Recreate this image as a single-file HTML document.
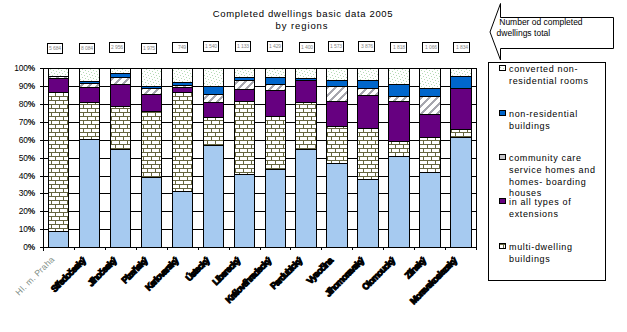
<!DOCTYPE html>
<html><head><meta charset="utf-8"><style>
html,body{margin:0;padding:0;background:#fff;width:627px;height:332px;overflow:hidden}
svg{display:block}
text{font-family:"Liberation Sans",sans-serif}
</style></head><body>
<svg width="627" height="332" viewBox="0 0 627 332" shape-rendering="crispEdges">
<defs>
<pattern id="brick" width="8" height="8" patternUnits="userSpaceOnUse">
<rect width="8" height="8" fill="#fff"/>
<rect x="0" y="0" width="8" height="1" fill="#666640"/>
<rect x="0" y="4" width="8" height="1" fill="#666640"/>
<rect x="3" y="1" width="1" height="3" fill="#666640"/>
<rect x="7" y="5" width="1" height="3" fill="#666640"/>
</pattern>
<pattern id="hatch" width="8" height="8" patternUnits="userSpaceOnUse">
<rect width="8" height="8" fill="#fff"/>

<rect x="5" y="0" width="1" height="1" fill="#A6A6AE"/><rect x="6" y="0" width="1" height="1" fill="#A6A6AE"/><rect x="7" y="0" width="1" height="1" fill="#A6A6AE"/><rect x="4" y="1" width="1" height="1" fill="#A6A6AE"/><rect x="5" y="1" width="1" height="1" fill="#A6A6AE"/><rect x="6" y="1" width="1" height="1" fill="#A6A6AE"/><rect x="3" y="2" width="1" height="1" fill="#A6A6AE"/><rect x="4" y="2" width="1" height="1" fill="#A6A6AE"/><rect x="5" y="2" width="1" height="1" fill="#A6A6AE"/><rect x="2" y="3" width="1" height="1" fill="#A6A6AE"/><rect x="3" y="3" width="1" height="1" fill="#A6A6AE"/><rect x="4" y="3" width="1" height="1" fill="#A6A6AE"/><rect x="1" y="4" width="1" height="1" fill="#A6A6AE"/><rect x="2" y="4" width="1" height="1" fill="#A6A6AE"/><rect x="3" y="4" width="1" height="1" fill="#A6A6AE"/><rect x="0" y="5" width="1" height="1" fill="#A6A6AE"/><rect x="1" y="5" width="1" height="1" fill="#A6A6AE"/><rect x="2" y="5" width="1" height="1" fill="#A6A6AE"/><rect x="0" y="6" width="1" height="1" fill="#A6A6AE"/><rect x="1" y="6" width="1" height="1" fill="#A6A6AE"/><rect x="7" y="6" width="1" height="1" fill="#A6A6AE"/><rect x="0" y="7" width="1" height="1" fill="#A6A6AE"/><rect x="6" y="7" width="1" height="1" fill="#A6A6AE"/><rect x="7" y="7" width="1" height="1" fill="#A6A6AE"/>
</pattern>
<pattern id="dots" width="8" height="8" patternUnits="userSpaceOnUse">
<rect width="8" height="8" fill="#fff"/>

<rect x="3" y="0" width="1" height="1" fill="#B4DAB4"/><rect x="6" y="1" width="1" height="1" fill="#B4DAB4"/><rect x="1" y="2" width="1" height="1" fill="#B4DAB4"/><rect x="4" y="3" width="1" height="1" fill="#B4DAB4"/><rect x="7" y="4" width="1" height="1" fill="#B4DAB4"/><rect x="2" y="5" width="1" height="1" fill="#B4DAB4"/><rect x="5" y="6" width="1" height="1" fill="#B4DAB4"/><rect x="0" y="7" width="1" height="1" fill="#B4DAB4"/>
</pattern>
<filter id="al" x="-5%" y="-20%" width="110%" height="140%"><feComponentTransfer><feFuncA type="discrete" tableValues="0 0 0 0 1 1 1 1 1 1"/></feComponentTransfer></filter>
</defs>
<rect width="627" height="332" fill="#fff"/>

<text x="303" y="16.5" font-size="9.5" text-anchor="middle" letter-spacing="0.66" fill="#000">Completed dwellings basic data 2005</text>
<text x="302" y="28.6" font-size="9.5" text-anchor="middle" letter-spacing="0.9" fill="#000">by regions</text>
<rect x="40" y="247" width="437" height="1" fill="#000"/>
<text x="35" y="249.6" font-size="8.4" text-anchor="end" fill="#000" letter-spacing="-0.15">0<tspan font-weight="bold">%</tspan></text>
<rect x="40" y="229" width="437" height="1" fill="#000"/>
<text x="35" y="231.6" font-size="8.4" text-anchor="end" fill="#000" letter-spacing="-0.15">10<tspan font-weight="bold">%</tspan></text>
<rect x="40" y="211" width="437" height="1" fill="#000"/>
<text x="35" y="213.6" font-size="8.4" text-anchor="end" fill="#000" letter-spacing="-0.15">20<tspan font-weight="bold">%</tspan></text>
<rect x="40" y="193" width="437" height="1" fill="#000"/>
<text x="35" y="195.6" font-size="8.4" text-anchor="end" fill="#000" letter-spacing="-0.15">30<tspan font-weight="bold">%</tspan></text>
<rect x="40" y="176" width="437" height="1" fill="#000"/>
<text x="35" y="178.6" font-size="8.4" text-anchor="end" fill="#000" letter-spacing="-0.15">40<tspan font-weight="bold">%</tspan></text>
<rect x="40" y="158" width="437" height="1" fill="#000"/>
<text x="35" y="160.6" font-size="8.4" text-anchor="end" fill="#000" letter-spacing="-0.15">50<tspan font-weight="bold">%</tspan></text>
<rect x="40" y="140" width="437" height="1" fill="#000"/>
<text x="35" y="142.6" font-size="8.4" text-anchor="end" fill="#000" letter-spacing="-0.15">60<tspan font-weight="bold">%</tspan></text>
<rect x="40" y="122" width="437" height="1" fill="#000"/>
<text x="35" y="124.6" font-size="8.4" text-anchor="end" fill="#000" letter-spacing="-0.15">70<tspan font-weight="bold">%</tspan></text>
<rect x="40" y="104" width="437" height="1" fill="#000"/>
<text x="35" y="106.6" font-size="8.4" text-anchor="end" fill="#000" letter-spacing="-0.15">80<tspan font-weight="bold">%</tspan></text>
<rect x="40" y="86" width="437" height="1" fill="#000"/>
<text x="35" y="88.6" font-size="8.4" text-anchor="end" fill="#000" letter-spacing="-0.15">90<tspan font-weight="bold">%</tspan></text>
<rect x="40" y="68" width="437" height="1" fill="#000"/>
<text x="35" y="70.6" font-size="8.4" text-anchor="end" fill="#000" letter-spacing="-0.15">100<tspan font-weight="bold">%</tspan></text>
<rect x="43" y="68" width="1" height="183" fill="#000"/>
<rect x="476" y="68" width="1" height="180" fill="#000"/>
<rect x="43" y="247" width="1" height="3" fill="#000"/>
<rect x="74" y="247" width="1" height="3" fill="#000"/>
<rect x="105" y="247" width="1" height="3" fill="#000"/>
<rect x="136" y="247" width="1" height="3" fill="#000"/>
<rect x="167" y="247" width="1" height="3" fill="#000"/>
<rect x="198" y="247" width="1" height="3" fill="#000"/>
<rect x="229" y="247" width="1" height="3" fill="#000"/>
<rect x="260" y="247" width="1" height="3" fill="#000"/>
<rect x="290" y="247" width="1" height="3" fill="#000"/>
<rect x="321" y="247" width="1" height="3" fill="#000"/>
<rect x="352" y="247" width="1" height="3" fill="#000"/>
<rect x="383" y="247" width="1" height="3" fill="#000"/>
<rect x="414" y="247" width="1" height="3" fill="#000"/>
<rect x="445" y="247" width="1" height="3" fill="#000"/>
<rect x="476" y="247" width="1" height="3" fill="#000"/>
<rect x="48" y="68" width="20" height="8" fill="url(#dots)"/>
<rect x="48" y="76" width="20" height="2" fill="url(#hatch)"/>
<rect x="48" y="78" width="20" height="14" fill="#660080"/>
<rect x="48" y="92" width="20" height="139" fill="url(#brick)"/>
<rect x="48" y="231" width="20" height="16" fill="#A6CAF0"/>
<rect x="48" y="68" width="21" height="1" fill="#000"/>
<rect x="48" y="76" width="21" height="1" fill="#000"/>
<rect x="48" y="78" width="21" height="1" fill="#000"/>
<rect x="48" y="92" width="21" height="1" fill="#000"/>
<rect x="48" y="231" width="21" height="1" fill="#000"/>
<rect x="48" y="247" width="21" height="1" fill="#000"/>
<rect x="48" y="68" width="1" height="180" fill="#000"/>
<rect x="68" y="68" width="1" height="180" fill="#000"/>
<rect x="79" y="68" width="20" height="13" fill="url(#dots)"/>
<rect x="79" y="81" width="20" height="2" fill="#0066CC"/>
<rect x="79" y="83" width="20" height="4" fill="url(#hatch)"/>
<rect x="79" y="87" width="20" height="15" fill="#660080"/>
<rect x="79" y="102" width="20" height="37" fill="url(#brick)"/>
<rect x="79" y="139" width="20" height="108" fill="#A6CAF0"/>
<rect x="79" y="68" width="21" height="1" fill="#000"/>
<rect x="79" y="81" width="21" height="1" fill="#000"/>
<rect x="79" y="83" width="21" height="1" fill="#000"/>
<rect x="79" y="87" width="21" height="1" fill="#000"/>
<rect x="79" y="102" width="21" height="1" fill="#000"/>
<rect x="79" y="139" width="21" height="1" fill="#000"/>
<rect x="79" y="247" width="21" height="1" fill="#000"/>
<rect x="79" y="68" width="1" height="180" fill="#000"/>
<rect x="99" y="68" width="1" height="180" fill="#000"/>
<rect x="110" y="68" width="20" height="5" fill="url(#dots)"/>
<rect x="110" y="73" width="20" height="4" fill="#0066CC"/>
<rect x="110" y="77" width="20" height="7" fill="url(#hatch)"/>
<rect x="110" y="84" width="20" height="22" fill="#660080"/>
<rect x="110" y="106" width="20" height="43" fill="url(#brick)"/>
<rect x="110" y="149" width="20" height="98" fill="#A6CAF0"/>
<rect x="110" y="68" width="21" height="1" fill="#000"/>
<rect x="110" y="73" width="21" height="1" fill="#000"/>
<rect x="110" y="77" width="21" height="1" fill="#000"/>
<rect x="110" y="84" width="21" height="1" fill="#000"/>
<rect x="110" y="106" width="21" height="1" fill="#000"/>
<rect x="110" y="149" width="21" height="1" fill="#000"/>
<rect x="110" y="247" width="21" height="1" fill="#000"/>
<rect x="110" y="68" width="1" height="180" fill="#000"/>
<rect x="130" y="68" width="1" height="180" fill="#000"/>
<rect x="141" y="68" width="20" height="18" fill="url(#dots)"/>
<rect x="141" y="86" width="20" height="2" fill="#0066CC"/>
<rect x="141" y="88" width="20" height="6" fill="url(#hatch)"/>
<rect x="141" y="94" width="20" height="17" fill="#660080"/>
<rect x="141" y="111" width="20" height="66" fill="url(#brick)"/>
<rect x="141" y="177" width="20" height="70" fill="#A6CAF0"/>
<rect x="141" y="68" width="21" height="1" fill="#000"/>
<rect x="141" y="86" width="21" height="1" fill="#000"/>
<rect x="141" y="88" width="21" height="1" fill="#000"/>
<rect x="141" y="94" width="21" height="1" fill="#000"/>
<rect x="141" y="111" width="21" height="1" fill="#000"/>
<rect x="141" y="177" width="21" height="1" fill="#000"/>
<rect x="141" y="247" width="21" height="1" fill="#000"/>
<rect x="141" y="68" width="1" height="180" fill="#000"/>
<rect x="161" y="68" width="1" height="180" fill="#000"/>
<rect x="172" y="68" width="20" height="14" fill="url(#dots)"/>
<rect x="172" y="82" width="20" height="3" fill="#0066CC"/>
<rect x="172" y="85" width="20" height="2" fill="url(#hatch)"/>
<rect x="172" y="87" width="20" height="5" fill="#660080"/>
<rect x="172" y="92" width="20" height="99" fill="url(#brick)"/>
<rect x="172" y="191" width="20" height="56" fill="#A6CAF0"/>
<rect x="172" y="68" width="21" height="1" fill="#000"/>
<rect x="172" y="82" width="21" height="1" fill="#000"/>
<rect x="172" y="85" width="21" height="1" fill="#000"/>
<rect x="172" y="87" width="21" height="1" fill="#000"/>
<rect x="172" y="92" width="21" height="1" fill="#000"/>
<rect x="172" y="191" width="21" height="1" fill="#000"/>
<rect x="172" y="247" width="21" height="1" fill="#000"/>
<rect x="172" y="68" width="1" height="180" fill="#000"/>
<rect x="192" y="68" width="1" height="180" fill="#000"/>
<rect x="203" y="68" width="20" height="18" fill="url(#dots)"/>
<rect x="203" y="86" width="20" height="8" fill="#0066CC"/>
<rect x="203" y="94" width="20" height="8" fill="url(#hatch)"/>
<rect x="203" y="102" width="20" height="15" fill="#660080"/>
<rect x="203" y="117" width="20" height="28" fill="url(#brick)"/>
<rect x="203" y="145" width="20" height="102" fill="#A6CAF0"/>
<rect x="203" y="68" width="21" height="1" fill="#000"/>
<rect x="203" y="86" width="21" height="1" fill="#000"/>
<rect x="203" y="94" width="21" height="1" fill="#000"/>
<rect x="203" y="102" width="21" height="1" fill="#000"/>
<rect x="203" y="117" width="21" height="1" fill="#000"/>
<rect x="203" y="145" width="21" height="1" fill="#000"/>
<rect x="203" y="247" width="21" height="1" fill="#000"/>
<rect x="203" y="68" width="1" height="180" fill="#000"/>
<rect x="223" y="68" width="1" height="180" fill="#000"/>
<rect x="234" y="68" width="20" height="9" fill="url(#dots)"/>
<rect x="234" y="77" width="20" height="3" fill="#0066CC"/>
<rect x="234" y="80" width="20" height="9" fill="url(#hatch)"/>
<rect x="234" y="89" width="20" height="12" fill="#660080"/>
<rect x="234" y="101" width="20" height="73" fill="url(#brick)"/>
<rect x="234" y="174" width="20" height="73" fill="#A6CAF0"/>
<rect x="234" y="68" width="21" height="1" fill="#000"/>
<rect x="234" y="77" width="21" height="1" fill="#000"/>
<rect x="234" y="80" width="21" height="1" fill="#000"/>
<rect x="234" y="89" width="21" height="1" fill="#000"/>
<rect x="234" y="101" width="21" height="1" fill="#000"/>
<rect x="234" y="174" width="21" height="1" fill="#000"/>
<rect x="234" y="247" width="21" height="1" fill="#000"/>
<rect x="234" y="68" width="1" height="180" fill="#000"/>
<rect x="254" y="68" width="1" height="180" fill="#000"/>
<rect x="265" y="68" width="20" height="9" fill="url(#dots)"/>
<rect x="265" y="77" width="20" height="7" fill="#0066CC"/>
<rect x="265" y="84" width="20" height="6" fill="url(#hatch)"/>
<rect x="265" y="90" width="20" height="26" fill="#660080"/>
<rect x="265" y="116" width="20" height="53" fill="url(#brick)"/>
<rect x="265" y="169" width="20" height="78" fill="#A6CAF0"/>
<rect x="265" y="68" width="21" height="1" fill="#000"/>
<rect x="265" y="77" width="21" height="1" fill="#000"/>
<rect x="265" y="84" width="21" height="1" fill="#000"/>
<rect x="265" y="90" width="21" height="1" fill="#000"/>
<rect x="265" y="116" width="21" height="1" fill="#000"/>
<rect x="265" y="169" width="21" height="1" fill="#000"/>
<rect x="265" y="247" width="21" height="1" fill="#000"/>
<rect x="265" y="68" width="1" height="180" fill="#000"/>
<rect x="285" y="68" width="1" height="180" fill="#000"/>
<rect x="295" y="68" width="21" height="10" fill="url(#dots)"/>
<rect x="295" y="78" width="21" height="2" fill="#0066CC"/>
<rect x="295" y="80" width="21" height="22" fill="#660080"/>
<rect x="295" y="102" width="21" height="47" fill="url(#brick)"/>
<rect x="295" y="149" width="21" height="98" fill="#A6CAF0"/>
<rect x="295" y="68" width="22" height="1" fill="#000"/>
<rect x="295" y="78" width="22" height="1" fill="#000"/>
<rect x="295" y="80" width="22" height="1" fill="#000"/>
<rect x="295" y="102" width="22" height="1" fill="#000"/>
<rect x="295" y="149" width="22" height="1" fill="#000"/>
<rect x="295" y="247" width="22" height="1" fill="#000"/>
<rect x="295" y="68" width="1" height="180" fill="#000"/>
<rect x="316" y="68" width="1" height="180" fill="#000"/>
<rect x="326" y="68" width="21" height="12" fill="url(#dots)"/>
<rect x="326" y="80" width="21" height="6" fill="#0066CC"/>
<rect x="326" y="86" width="21" height="15" fill="url(#hatch)"/>
<rect x="326" y="101" width="21" height="25" fill="#660080"/>
<rect x="326" y="126" width="21" height="37" fill="url(#brick)"/>
<rect x="326" y="163" width="21" height="84" fill="#A6CAF0"/>
<rect x="326" y="68" width="22" height="1" fill="#000"/>
<rect x="326" y="80" width="22" height="1" fill="#000"/>
<rect x="326" y="86" width="22" height="1" fill="#000"/>
<rect x="326" y="101" width="22" height="1" fill="#000"/>
<rect x="326" y="126" width="22" height="1" fill="#000"/>
<rect x="326" y="163" width="22" height="1" fill="#000"/>
<rect x="326" y="247" width="22" height="1" fill="#000"/>
<rect x="326" y="68" width="1" height="180" fill="#000"/>
<rect x="347" y="68" width="1" height="180" fill="#000"/>
<rect x="357" y="68" width="21" height="12" fill="url(#dots)"/>
<rect x="357" y="80" width="21" height="8" fill="#0066CC"/>
<rect x="357" y="88" width="21" height="7" fill="url(#hatch)"/>
<rect x="357" y="95" width="21" height="33" fill="#660080"/>
<rect x="357" y="128" width="21" height="51" fill="url(#brick)"/>
<rect x="357" y="179" width="21" height="68" fill="#A6CAF0"/>
<rect x="357" y="68" width="22" height="1" fill="#000"/>
<rect x="357" y="80" width="22" height="1" fill="#000"/>
<rect x="357" y="88" width="22" height="1" fill="#000"/>
<rect x="357" y="95" width="22" height="1" fill="#000"/>
<rect x="357" y="128" width="22" height="1" fill="#000"/>
<rect x="357" y="179" width="22" height="1" fill="#000"/>
<rect x="357" y="247" width="22" height="1" fill="#000"/>
<rect x="357" y="68" width="1" height="180" fill="#000"/>
<rect x="378" y="68" width="1" height="180" fill="#000"/>
<rect x="388" y="68" width="21" height="16" fill="url(#dots)"/>
<rect x="388" y="84" width="21" height="12" fill="#0066CC"/>
<rect x="388" y="96" width="21" height="5" fill="url(#hatch)"/>
<rect x="388" y="101" width="21" height="40" fill="#660080"/>
<rect x="388" y="141" width="21" height="15" fill="url(#brick)"/>
<rect x="388" y="156" width="21" height="91" fill="#A6CAF0"/>
<rect x="388" y="68" width="22" height="1" fill="#000"/>
<rect x="388" y="84" width="22" height="1" fill="#000"/>
<rect x="388" y="96" width="22" height="1" fill="#000"/>
<rect x="388" y="101" width="22" height="1" fill="#000"/>
<rect x="388" y="141" width="22" height="1" fill="#000"/>
<rect x="388" y="156" width="22" height="1" fill="#000"/>
<rect x="388" y="247" width="22" height="1" fill="#000"/>
<rect x="388" y="68" width="1" height="180" fill="#000"/>
<rect x="409" y="68" width="1" height="180" fill="#000"/>
<rect x="419" y="68" width="21" height="20" fill="url(#dots)"/>
<rect x="419" y="88" width="21" height="8" fill="#0066CC"/>
<rect x="419" y="96" width="21" height="18" fill="url(#hatch)"/>
<rect x="419" y="114" width="21" height="23" fill="#660080"/>
<rect x="419" y="137" width="21" height="35" fill="url(#brick)"/>
<rect x="419" y="172" width="21" height="75" fill="#A6CAF0"/>
<rect x="419" y="68" width="22" height="1" fill="#000"/>
<rect x="419" y="88" width="22" height="1" fill="#000"/>
<rect x="419" y="96" width="22" height="1" fill="#000"/>
<rect x="419" y="114" width="22" height="1" fill="#000"/>
<rect x="419" y="137" width="22" height="1" fill="#000"/>
<rect x="419" y="172" width="22" height="1" fill="#000"/>
<rect x="419" y="247" width="22" height="1" fill="#000"/>
<rect x="419" y="68" width="1" height="180" fill="#000"/>
<rect x="440" y="68" width="1" height="180" fill="#000"/>
<rect x="450" y="68" width="21" height="8" fill="url(#dots)"/>
<rect x="450" y="76" width="21" height="12" fill="#0066CC"/>
<rect x="450" y="88" width="21" height="41" fill="#660080"/>
<rect x="450" y="129" width="21" height="8" fill="url(#brick)"/>
<rect x="450" y="137" width="21" height="110" fill="#A6CAF0"/>
<rect x="450" y="68" width="22" height="1" fill="#000"/>
<rect x="450" y="76" width="22" height="1" fill="#000"/>
<rect x="450" y="88" width="22" height="1" fill="#000"/>
<rect x="450" y="129" width="22" height="1" fill="#000"/>
<rect x="450" y="137" width="22" height="1" fill="#000"/>
<rect x="450" y="247" width="22" height="1" fill="#000"/>
<rect x="450" y="68" width="1" height="180" fill="#000"/>
<rect x="471" y="68" width="1" height="180" fill="#000"/>
<rect x="47" y="43" width="16" height="10" fill="#fff"/>
<rect x="47" y="43" width="16" height="1" fill="#000"/><rect x="47" y="53" width="16" height="1" fill="#000"/><rect x="47" y="43" width="1" height="11" fill="#000"/><rect x="62" y="43" width="1" height="11" fill="#000"/>
<text x="61" y="49.5" font-size="5" text-anchor="end" fill="#888" letter-spacing="-0.1">5 684</text>
<rect x="79" y="43" width="16" height="10" fill="#fff"/>
<rect x="79" y="43" width="16" height="1" fill="#000"/><rect x="79" y="53" width="16" height="1" fill="#000"/><rect x="79" y="43" width="1" height="11" fill="#000"/><rect x="94" y="43" width="1" height="11" fill="#000"/>
<text x="93" y="49.5" font-size="5" text-anchor="end" fill="#888" letter-spacing="-0.1">8 084</text>
<rect x="109" y="42" width="16" height="10" fill="#fff"/>
<rect x="109" y="42" width="16" height="1" fill="#000"/><rect x="109" y="52" width="16" height="1" fill="#000"/><rect x="109" y="42" width="1" height="11" fill="#000"/><rect x="124" y="42" width="1" height="11" fill="#000"/>
<text x="123" y="48.5" font-size="5" text-anchor="end" fill="#888" letter-spacing="-0.1">2 956</text>
<rect x="141" y="43" width="16" height="10" fill="#fff"/>
<rect x="141" y="43" width="16" height="1" fill="#000"/><rect x="141" y="53" width="16" height="1" fill="#000"/><rect x="141" y="43" width="1" height="11" fill="#000"/><rect x="156" y="43" width="1" height="11" fill="#000"/>
<text x="155" y="49.5" font-size="5" text-anchor="end" fill="#888" letter-spacing="-0.1">1 975</text>
<rect x="172" y="42" width="16" height="10" fill="#fff"/>
<rect x="172" y="42" width="16" height="1" fill="#000"/><rect x="172" y="52" width="16" height="1" fill="#000"/><rect x="172" y="42" width="1" height="11" fill="#000"/><rect x="187" y="42" width="1" height="11" fill="#000"/>
<text x="186" y="48.5" font-size="5" text-anchor="end" fill="#888" letter-spacing="-0.1">749</text>
<rect x="203" y="41" width="16" height="10" fill="#fff"/>
<rect x="203" y="41" width="16" height="1" fill="#000"/><rect x="203" y="51" width="16" height="1" fill="#000"/><rect x="203" y="41" width="1" height="11" fill="#000"/><rect x="218" y="41" width="1" height="11" fill="#000"/>
<text x="217" y="47.5" font-size="5" text-anchor="end" fill="#888" letter-spacing="-0.1">1 540</text>
<rect x="235" y="41" width="16" height="10" fill="#fff"/>
<rect x="235" y="41" width="16" height="1" fill="#000"/><rect x="235" y="51" width="16" height="1" fill="#000"/><rect x="235" y="41" width="1" height="11" fill="#000"/><rect x="250" y="41" width="1" height="11" fill="#000"/>
<text x="249" y="47.5" font-size="5" text-anchor="end" fill="#888" letter-spacing="-0.1">1 133</text>
<rect x="267" y="41" width="16" height="10" fill="#fff"/>
<rect x="267" y="41" width="16" height="1" fill="#000"/><rect x="267" y="51" width="16" height="1" fill="#000"/><rect x="267" y="41" width="1" height="11" fill="#000"/><rect x="282" y="41" width="1" height="11" fill="#000"/>
<text x="281" y="47.5" font-size="5" text-anchor="end" fill="#888" letter-spacing="-0.1">1 429</text>
<rect x="299" y="42" width="16" height="10" fill="#fff"/>
<rect x="299" y="42" width="16" height="1" fill="#000"/><rect x="299" y="52" width="16" height="1" fill="#000"/><rect x="299" y="42" width="1" height="11" fill="#000"/><rect x="314" y="42" width="1" height="11" fill="#000"/>
<text x="313" y="48.5" font-size="5" text-anchor="end" fill="#888" letter-spacing="-0.1">1 400</text>
<rect x="328" y="41" width="16" height="10" fill="#fff"/>
<rect x="328" y="41" width="16" height="1" fill="#000"/><rect x="328" y="51" width="16" height="1" fill="#000"/><rect x="328" y="41" width="1" height="11" fill="#000"/><rect x="343" y="41" width="1" height="11" fill="#000"/>
<text x="342" y="47.5" font-size="5" text-anchor="end" fill="#888" letter-spacing="-0.1">1 573</text>
<rect x="358" y="41" width="17" height="10" fill="#fff"/>
<rect x="358" y="41" width="17" height="1" fill="#000"/><rect x="358" y="51" width="17" height="1" fill="#000"/><rect x="358" y="41" width="1" height="11" fill="#000"/><rect x="374" y="41" width="1" height="11" fill="#000"/>
<text x="373" y="47.5" font-size="5" text-anchor="end" fill="#888" letter-spacing="-0.1">3 876</text>
<rect x="390" y="42" width="17" height="10" fill="#fff"/>
<rect x="390" y="42" width="17" height="1" fill="#000"/><rect x="390" y="52" width="17" height="1" fill="#000"/><rect x="390" y="42" width="1" height="11" fill="#000"/><rect x="406" y="42" width="1" height="11" fill="#000"/>
<text x="405" y="48.5" font-size="5" text-anchor="end" fill="#888" letter-spacing="-0.1">1 818</text>
<rect x="422" y="42" width="17" height="10" fill="#fff"/>
<rect x="422" y="42" width="17" height="1" fill="#000"/><rect x="422" y="52" width="17" height="1" fill="#000"/><rect x="422" y="42" width="1" height="11" fill="#000"/><rect x="438" y="42" width="1" height="11" fill="#000"/>
<text x="437" y="48.5" font-size="5" text-anchor="end" fill="#888" letter-spacing="-0.1">1 066</text>
<rect x="453" y="42" width="17" height="10" fill="#fff"/>
<rect x="453" y="42" width="17" height="1" fill="#000"/><rect x="453" y="52" width="17" height="1" fill="#000"/><rect x="453" y="42" width="1" height="11" fill="#000"/><rect x="469" y="42" width="1" height="11" fill="#000"/>
<text x="468" y="48.5" font-size="5" text-anchor="end" fill="#888" letter-spacing="-0.1">1 834</text>
<rect x="488" y="62" width="118" height="219" fill="#fff"/>
<rect x="488" y="62" width="118" height="1" fill="#000"/><rect x="488" y="280" width="118" height="1" fill="#000"/><rect x="488" y="62" width="1" height="219" fill="#000"/><rect x="605" y="62" width="1" height="219" fill="#000"/>
<rect x="499" y="65" width="7" height="6" fill="#000"/><rect x="500" y="66" width="5" height="4" fill="url(#dots)"/>
<text x="509" y="72.0" font-size="9" letter-spacing="0.65" fill="#000">converted non-</text>
<text x="509" y="83.8" font-size="9" letter-spacing="0.65" fill="#000">residential rooms</text>
<rect x="499" y="110" width="7" height="6" fill="#000"/><rect x="500" y="111" width="5" height="4" fill="#0066CC"/>
<text x="509" y="117.0" font-size="9" letter-spacing="0.65" fill="#000">non-residential</text>
<text x="509" y="128.8" font-size="9" letter-spacing="0.65" fill="#000">buildings</text>
<rect x="499" y="154" width="7" height="6" fill="#000"/><rect x="500" y="155" width="5" height="4" fill="#C4C4C8"/>
<text x="509" y="161.0" font-size="9" letter-spacing="0.65" fill="#000">community care</text>
<text x="509" y="172.8" font-size="9" letter-spacing="0.65" fill="#000">service homes and</text>
<text x="509" y="184.6" font-size="9" letter-spacing="0.65" fill="#000">homes- boarding</text>
<text x="509" y="196.4" font-size="9" letter-spacing="0.65" fill="#000">houses</text>
<rect x="499" y="198" width="7" height="6" fill="#000"/><rect x="500" y="199" width="5" height="4" fill="#660080"/>
<text x="509" y="205.0" font-size="9" letter-spacing="0.65" fill="#000">in all types of</text>
<text x="509" y="216.8" font-size="9" letter-spacing="0.65" fill="#000">extensions</text>
<rect x="499" y="243" width="7" height="6" fill="#000"/><rect x="500" y="244" width="5" height="4" fill="url(#brick)"/>
<text x="509" y="250.0" font-size="9" letter-spacing="0.65" fill="#000">multi-dwelling</text>
<text x="509" y="261.8" font-size="9" letter-spacing="0.65" fill="#000">buildings</text>
<path d="M613.5 17.5 L500.5 17.5 L500.5 3.5 L490 32 L500.5 60 L500.5 48.5 L613.5 48.5 Z" fill="#fff" stroke="#000" stroke-width="1" shape-rendering="auto"/>
<text x="499.3" y="25.2" font-size="8.5" letter-spacing="-0.02" fill="#000">Number od completed</text>
<text x="496.5" y="36" font-size="8.5" letter-spacing="0.02" fill="#000">dwellings total</text>
<text transform="translate(55.0,260.0) rotate(-45)" font-size="8.6" letter-spacing="0.25" text-anchor="end" fill="#7d8c84" shape-rendering="auto">Hl. m. Praha</text>
<text transform="translate(85.9,261.5) rotate(-45)" font-size="9.2" font-weight="bold" letter-spacing="-0.95" text-anchor="end" fill="#000" stroke="#000" stroke-width="1.0">Středočeský</text>
<text transform="translate(116.8,261.5) rotate(-45)" font-size="9.2" font-weight="bold" letter-spacing="-0.95" text-anchor="end" fill="#000" stroke="#000" stroke-width="1.0">Jihočeský</text>
<text transform="translate(147.8,261.5) rotate(-45)" font-size="9.2" font-weight="bold" letter-spacing="-0.95" text-anchor="end" fill="#000" stroke="#000" stroke-width="1.0">Plzeňský</text>
<text transform="translate(178.7,261.5) rotate(-45)" font-size="9.2" font-weight="bold" letter-spacing="-0.95" text-anchor="end" fill="#000" stroke="#000" stroke-width="1.0">Karlovarský</text>
<text transform="translate(209.6,261.5) rotate(-45)" font-size="9.2" font-weight="bold" letter-spacing="-0.95" text-anchor="end" fill="#000" stroke="#000" stroke-width="1.0">Ústecký</text>
<text transform="translate(240.5,261.5) rotate(-45)" font-size="9.2" font-weight="bold" letter-spacing="-0.95" text-anchor="end" fill="#000" stroke="#000" stroke-width="1.0">Liberecký</text>
<text transform="translate(271.5,261.5) rotate(-45)" font-size="9.2" font-weight="bold" letter-spacing="-0.95" text-anchor="end" fill="#000" stroke="#000" stroke-width="1.0">Královéhradecký</text>
<text transform="translate(302.4,261.5) rotate(-45)" font-size="9.2" font-weight="bold" letter-spacing="-0.95" text-anchor="end" fill="#000" stroke="#000" stroke-width="1.0">Pardubický</text>
<text transform="translate(333.3,261.5) rotate(-45)" font-size="9.2" font-weight="bold" letter-spacing="-0.95" text-anchor="end" fill="#000" stroke="#000" stroke-width="1.0">Vysočina</text>
<text transform="translate(364.3,261.5) rotate(-45)" font-size="9.2" font-weight="bold" letter-spacing="-0.95" text-anchor="end" fill="#000" stroke="#000" stroke-width="1.0">Jihomoravský</text>
<text transform="translate(395.2,261.5) rotate(-45)" font-size="9.2" font-weight="bold" letter-spacing="-0.95" text-anchor="end" fill="#000" stroke="#000" stroke-width="1.0">Olomoucký</text>
<text transform="translate(426.1,261.5) rotate(-45)" font-size="9.2" font-weight="bold" letter-spacing="-0.95" text-anchor="end" fill="#000" stroke="#000" stroke-width="1.0">Zlínský</text>
<text transform="translate(457.1,261.5) rotate(-45)" font-size="9.2" font-weight="bold" letter-spacing="-0.95" text-anchor="end" fill="#000" stroke="#000" stroke-width="1.0">Moravskoslezský</text>
</svg></body></html>
